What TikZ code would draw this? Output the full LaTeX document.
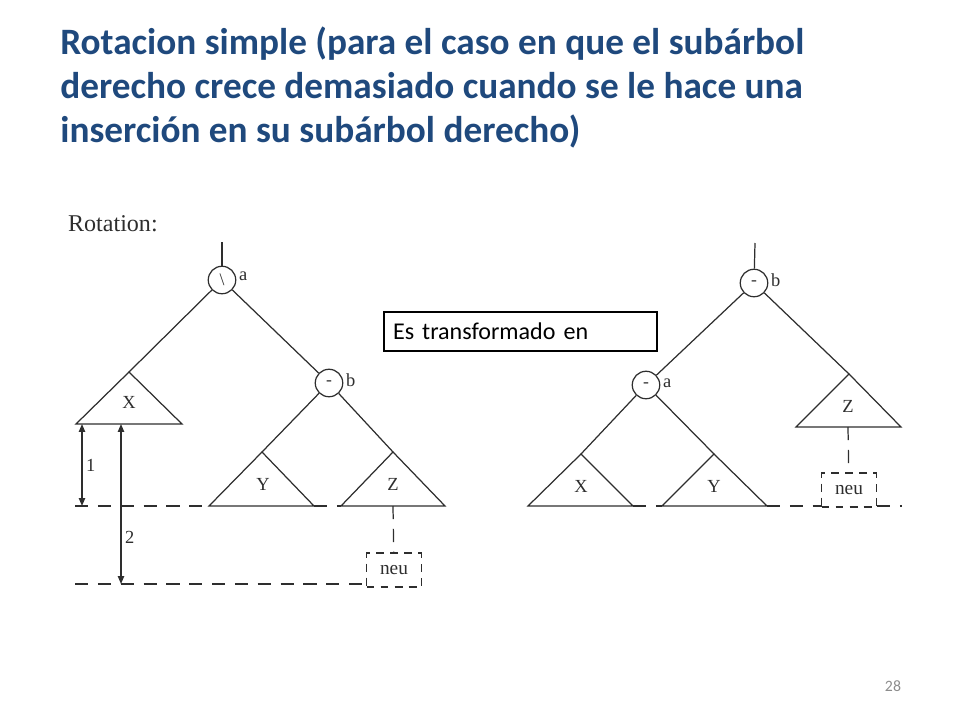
\documentclass[tikz,border=0pt]{standalone}
\usepackage{fontspec}
\setmainfont{Carlito}
\newfontfamily\figfont{Liberation Serif}
\usetikzlibrary{arrows.meta}
\definecolor{title_blue}{HTML}{1F497D}
\definecolor{page_grey}{HTML}{8C8C8C}
\definecolor{scan_grey}{HTML}{2E2E2E}

\tikzset{
    title/.style={anchor=north west, align=left, text=title_blue, inner sep=0pt,
        font=\bfseries\fontsize{21.2}{24.9}\selectfont},
    knot/.style={circle, draw=scan_grey, line width=0.7pt, minimum size=0.55cm, inner sep=0pt,
        text=scan_grey, font=\figfont\fontsize{10}{12}\selectfont},
    lbl/.style={text=scan_grey, inner sep=1pt, font=\figfont\fontsize{10.5}{12}\selectfont},
    edge/.style={draw=scan_grey, line width=0.7pt},
    guide/.style={draw=scan_grey, line width=0.7pt, dash pattern=on 7.5pt off 5.5pt},
    newbox/.style={draw=scan_grey, line width=0.7pt, dash pattern=on 4.5pt off 3.5pt,
        minimum width=1.1cm, minimum height=0.68cm, inner sep=0pt, text=scan_grey,
        font=\figfont\fontsize{11}{12}\selectfont},
    dim/.style={edge, {Triangle[length=4.5pt, width=3.6pt]}-{Triangle[length=4.5pt, width=3.6pt]}},
}
\newcommand{\balzero}{\raisebox{-0.35ex}{-}}

\begin{document}
\begin{tikzpicture}[x=0.02cm, y=-0.02cm]
    \useasboundingbox (0,0) rectangle (960,720);

    \node[title] (head) at (60,27) {Rotacion simple (para el caso en que el subárbol\\derecho crece demasiado cuando se le hace una\\inserción en su subárbol derecho)};
    \node[lbl, anchor=base west, font=\figfont\fontsize{13.7}{16}\selectfont] (rot) at (66,231) {Rotation:};

    % arbol antes de la rotacion
    \coordinate (ltop) at (222,242);
    \node[knot] (la) at (222,280) {\textbackslash};
    \node[knot] (lb) at (329,383) {\balzero};
    \node[lbl, anchor=west] (la_name) at (237,276) {a};
    \node[lbl, anchor=west] (lb_name) at (344,380) {b};

    \coordinate (lx) at (129,372);
    \coordinate (ly) at (262,452);
    \coordinate (lz) at (393,452);

    \draw[edge] (ltop) -- (la);
    \draw[edge] (la) -- (lx);
    \draw[edge] (la) -- (lb);
    \draw[edge] (lb) -- (ly);
    \draw[edge] (lb) -- (lz);

    \draw[edge] (lx) -- ++(-53,52) -- ++(106,0) -- cycle;
    \draw[edge] (ly) -- ++(-53,54) -- ++(105,0) -- cycle;
    \draw[edge] (lz) -- ++(-52,54) -- ++(104,0) -- cycle;
    \node[lbl] (lx_name) at (129,402) {X};
    \node[lbl] (ly_name) at (263,484) {Y};
    \node[lbl] (lz_name) at (393,484) {Z};

    \node[newbox] (lneu) at (394,570) {neu};
    \coordinate (lz_base) at (393,506);
    \draw[guide] (lz_base) -- (lneu);

    \draw[guide] (75,506) -- (209,506);
    \draw[guide] (314,506) -- (341,506);
    \draw[guide] (75,584) -- (366,584);

    \coordinate (h1t) at (82,424);
    \coordinate (h1b) at (82,506);
    \coordinate (h2t) at (121,424);
    \coordinate (h2b) at (121,584);
    \draw[dim] (h1t) -- node[lbl, right=1pt] (h1) {1} (h1b);
    \draw[dim] (h2t) -- node[lbl, right=1pt, pos=0.71] (h2) {2} (h2b);

    \node[draw=black, line width=1.5pt, minimum width=5.46cm, minimum height=0.78cm,
        text width=5.1cm, align=left, font=\fontsize{13.7}{16}\selectfont] (trans) at (520.5,331.5) {Es transformado en};

    % arbol despues de la rotacion
    \coordinate (rtop) at (755,243);
    \node[knot] (rb) at (754,283) {\balzero};
    \node[knot] (ra) at (646,385) {\balzero};
    \node[lbl, anchor=west] (rb_name) at (769,280) {b};
    \node[lbl, anchor=west] (ra_name) at (661,383) {a};

    \coordinate (rz) at (849,374);
    \coordinate (rx) at (581,454);
    \coordinate (ry) at (714,454);

    \draw[edge] (rtop) -- (rb);
    \draw[edge] (rb) -- (ra);
    \draw[edge] (rb) -- (rz);
    \draw[edge] (ra) -- (rx);
    \draw[edge] (ra) -- (ry);

    \draw[edge] (rz) -- ++(-53,53) -- ++(105,0) -- cycle;
    \draw[edge] (rx) -- ++(-53,52) -- ++(105,0) -- cycle;
    \draw[edge] (ry) -- ++(-52,52) -- ++(105,0) -- cycle;
    \node[lbl] (rz_name) at (848,406) {Z};
    \node[lbl] (rx_name) at (581,486) {X};
    \node[lbl] (ry_name) at (714,486) {Y};

    \node[newbox] (rneu) at (849,490) {neu};
    \coordinate (rz_base) at (848,427);
    \draw[guide] (rz_base) -- (rneu);

    \draw[guide] (633,506) -- (662,506);
    \draw[guide] (767,506) -- (822,506);
    \draw[guide] (877,506) -- (902,506);

    \node[text=page_grey, font=\fontsize{9}{10}\selectfont] (page) at (893,686) {28};
\end{tikzpicture}
\end{document}
